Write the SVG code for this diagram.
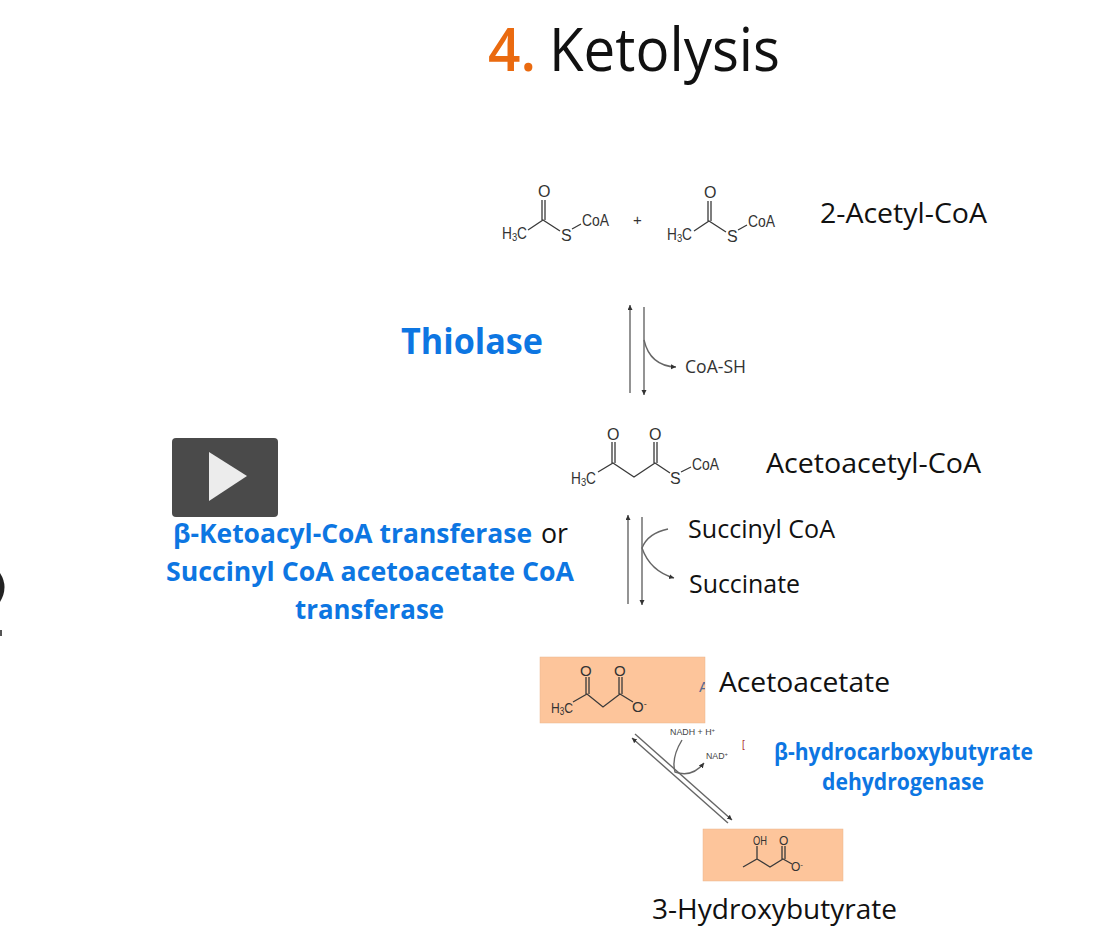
<svg xmlns="http://www.w3.org/2000/svg" width="1108" height="947" viewBox="0 0 1108 947">
<style>
text{font-family:"Open Sans","Liberation Sans",sans-serif;fill:#111}
.chem text,.chem{font-family:"Liberation Sans",Arial,sans-serif;fill:#333}
.chem text{font-size:16px}
.bond{fill:none;stroke:#3a3a3a;stroke-width:1.3}
.arrow{fill:none;stroke:#666;stroke-width:1.4}
.blue{fill:#0d76e2;font-weight:700}
.lab{font-size:27px}
.box{fill:#fdc59b;stroke:#e9b68e;stroke-width:.5}
</style>
<defs>
<marker id="ah" markerWidth="6" markerHeight="6" refX="5" refY="2.5" orient="auto" markerUnits="userSpaceOnUse"><path d="M0 0L5 2.5L0 5Z" fill="#333"/></marker>
<clipPath id="cutA"><rect x="690" y="670" width="15" height="30"/></clipPath>
</defs>
<rect width="1108" height="947" fill="#fff"/>
<g id="title"><text x="488" y="71" font-size="60" style="fill:#ea6a0f;font-weight:600" textLength="48" lengthAdjust="spacingAndGlyphs">4.</text><text x="549" y="71" font-size="60" font-weight="500" textLength="231" lengthAdjust="spacingAndGlyphs">Ketolysis</text></g>
<g id="artifact"><path d="M0 573Q9 587 0 602Z" fill="#222"/><rect x="0" y="630" width="2" height="6" fill="#555"/></g>
<g id="acetyl-1" class="chem"><path class="bond" d="M528 230L543 220L560 231M572 229L581 224M542 220V200M545 220V200"/><text x="502" y="239" textLength="25" lengthAdjust="spacingAndGlyphs">H<tspan font-size="11" dy="2">3</tspan><tspan dy="-2">C</tspan></text><text x="538" y="197">O</text><text x="561" y="241">S</text><text x="582" y="226" textLength="27" lengthAdjust="spacingAndGlyphs">CoA</text></g>
<g id="plus" class="chem"><text x="633" y="225" style="font-size:15px">+</text></g>
<g id="acetyl-2" class="chem"><path class="bond" d="M694 231L709 221L726 232M738 230L747 225M708 221V201M711 221V201"/><text x="667" y="240" textLength="25" lengthAdjust="spacingAndGlyphs">H<tspan font-size="11" dy="2">3</tspan><tspan dy="-2">C</tspan></text><text x="704" y="198">O</text><text x="727" y="242">S</text><text x="748" y="227" textLength="27" lengthAdjust="spacingAndGlyphs">CoA</text></g>
<g id="acetyl-label"><text class="lab" x="820" y="223" textLength="167" lengthAdjust="spacingAndGlyphs">2-Acetyl-CoA</text></g>
<g id="thiolase"><text class="blue" x="401" y="354" font-size="36" textLength="142" lengthAdjust="spacingAndGlyphs">Thiolase</text></g>
<g id="coash"><text x="685" y="373" font-size="19" style="fill:#333" textLength="61" lengthAdjust="spacingAndGlyphs">CoA-SH</text></g>
<g id="acetoacetyl" class="chem"><path class="bond" d="M598 472L613 463L634 477L655 463L670 473M681 472L691 467M612 463V442M615 463V442M654 463V442M657 463V442"/><text x="571" y="484" textLength="25" lengthAdjust="spacingAndGlyphs">H<tspan font-size="11" dy="2">3</tspan><tspan dy="-2">C</tspan></text><text x="607" y="440">O</text><text x="649" y="440">O</text><text x="670" y="484">S</text><text x="692" y="470" textLength="27" lengthAdjust="spacingAndGlyphs">CoA</text></g>
<g id="acetoacetyl-label"><text class="lab" x="766" y="473" textLength="215" lengthAdjust="spacingAndGlyphs">Acetoacetyl-CoA</text></g>
<g id="play"><rect x="172" y="438" width="106" height="79" rx="4" fill="#4a4a4a"/><path d="M209 452L247 476L209 501Z" fill="#ececec"/></g>
<g id="transferase"><text class="blue" x="173" y="543" font-size="26.8" textLength="359" lengthAdjust="spacingAndGlyphs">β-Ketoacyl-CoA transferase</text><text x="541" y="543" font-size="26.8" textLength="27" lengthAdjust="spacingAndGlyphs">or</text><text class="blue" x="166" y="581" font-size="26.8" textLength="408" lengthAdjust="spacingAndGlyphs">Succinyl CoA acetoacetate CoA</text><text class="blue" x="295" y="619" font-size="26.8" textLength="149" lengthAdjust="spacingAndGlyphs">transferase</text></g>
<g id="succinyl"><text x="688" y="538" font-size="25" textLength="147" lengthAdjust="spacingAndGlyphs">Succinyl CoA</text></g>
<g id="succinate"><text x="689" y="593" font-size="25" textLength="111" lengthAdjust="spacingAndGlyphs">Succinate</text></g>
<g id="acetoacetate" class="chem"><rect class="box" x="540" y="657" width="165" height="66"/><text x="699" y="692" clip-path="url(#cutA)" style="fill:#5a6a90;font-size:15px">A</text><path class="bond" d="M573 702L587 694L603 707L620 694L633 702M586 694V677M589 694V677M619 694V677M622 694V677"/><text x="551" y="713" style="font-size:15px" textLength="22" lengthAdjust="spacingAndGlyphs">H<tspan font-size="10" dy="2">3</tspan><tspan dy="-2">C</tspan></text><text x="580" y="676" style="font-size:15px">O</text><text x="614" y="676" style="font-size:15px">O</text><text x="632" y="712" style="font-size:15px">O<tspan font-size="9" dy="-5">-</tspan></text></g>
<g id="acetoacetate-label"><text class="lab" x="719" y="692" textLength="171" lengthAdjust="spacingAndGlyphs">Acetoacetate</text></g>
<g id="cofactors" class="chem"><text x="670" y="735" style="font-size:9px;fill:#444" textLength="45" lengthAdjust="spacingAndGlyphs">NADH + H<tspan font-size="6" dy="-3">+</tspan></text><text x="706" y="759" style="font-size:9px;fill:#444" textLength="22" lengthAdjust="spacingAndGlyphs">NAD<tspan font-size="6" dy="-3">+</tspan></text><text x="742" y="748" style="fill:#a33;font-size:10px">[</text></g>
<g id="dehydrogenase"><text class="blue" x="774" y="760" font-size="23" textLength="259" lengthAdjust="spacingAndGlyphs">β-hydrocarboxybutyrate</text><text class="blue" x="822" y="790" font-size="23" textLength="162" lengthAdjust="spacingAndGlyphs">dehydrogenase</text></g>
<g id="hydroxybutyrate" class="chem"><rect class="box" x="703" y="829" width="140" height="52"/><path class="bond" d="M743 867L757 859L770 867L783 859L792 864M757 859V846M782 859V846M785 859V846"/><text x="753" y="845" style="font-size:12px" textLength="14" lengthAdjust="spacingAndGlyphs">OH</text><text x="779" y="845" style="font-size:12px">O</text><text x="791" y="871" style="font-size:12px">O<tspan font-size="8" dy="-4">-</tspan></text></g>
<g id="hydroxybutyrate-label"><text x="652" y="919" font-size="27" textLength="245" lengthAdjust="spacingAndGlyphs">3-Hydroxybutyrate</text></g>
<g id="connectors">
<path class="arrow" marker-end="url(#ah)" d="M630 393V305"/>
<path class="arrow" marker-end="url(#ah)" d="M644 307V395"/>
<path class="arrow" marker-end="url(#ah)" d="M644 340Q650 366 676 367"/>
<path class="arrow" marker-end="url(#ah)" d="M628 604V515"/>
<path class="arrow" marker-end="url(#ah)" d="M642 517V605"/>
<path class="arrow" marker-end="url(#ah)" d="M668 529Q648 533 642 548Q650 571 674 578"/>
<path class="arrow" marker-end="url(#ah)" d="M728 823L632 738"/>
<path class="arrow" marker-end="url(#ah)" d="M635 734L732 820"/>
<path class="arrow" marker-end="url(#ah)" d="M682 740Q671 758 675 772Q692 778 704 763"/>
</g>
</svg>
